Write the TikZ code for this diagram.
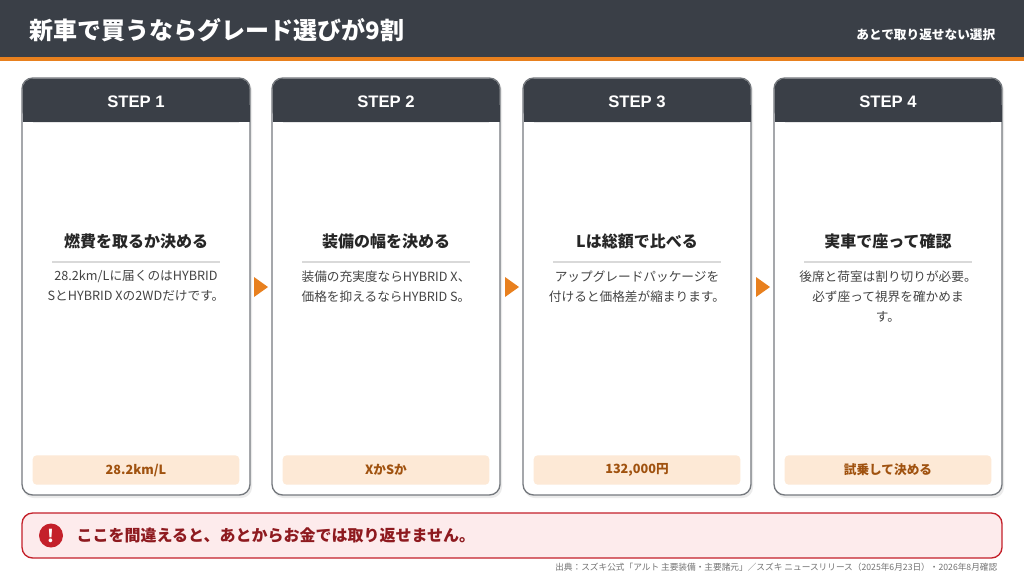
\documentclass[tikz,border=0pt]{standalone}
\usepackage{fontspec}
\setmainfont{Noto Sans CJK JP}
\newfontfamily\stepfont{Liberation Sans}
\usetikzlibrary{positioning}
\definecolor{dark}{HTML}{3A3F47}
\definecolor{accent}{HTML}{E8801E}
\definecolor{tagfill}{HTML}{FDE9D6}
\definecolor{tagtext}{HTML}{A0520F}
\definecolor{warnfill}{HTML}{FDEBEC}
\definecolor{warnred}{HTML}{C4202A}
\definecolor{warntext}{HTML}{8E1A1F}
\definecolor{bodytext}{HTML}{444444}
\tikzset{
  card/.style={draw=dark!70,line width=1pt,rounded corners=8pt,fill=white},
  steptitle/.style={font=\stepfont\bfseries\fontsize{12.5}{14}\selectfont,text=white},
  cardtitle/.style={font=\bfseries\fontsize{12}{14}\selectfont,text=black!85},
  cardbody/.style={font=\fontsize{9.5}{15}\selectfont,text=bodytext,align=center},
  tag/.style={fill=tagfill,rounded corners=3pt,minimum width=155pt,minimum height=22pt,
    font=\bfseries\fontsize{9.5}{11}\selectfont,text=tagtext},
  flow/.style={fill=accent,draw=none}
}
\begin{document}
\begin{tikzpicture}[x=0.75pt,y=-0.75pt]
\useasboundingbox (0,0) rectangle (1024,576);
\fill[white] (0,0) rectangle (1024,576);

% header
\fill[dark] (0,0) rectangle (1024,57);
\fill[accent] (0,57) rectangle (1024,61);
\node[anchor=west,text=white,font=\bfseries\fontsize{18}{20}\selectfont] (title) at (25,30) {新車で買うならグレード選びが9割};
\node[anchor=east,text=white,font=\bfseries\fontsize{9.5}{11}\selectfont] (subtitle) at (1000,35) {あとで取り返せない選択};

% cards
\foreach \i/\x/\ttl/\body/\tg in {
  1/22/燃費を取るか決める/{28.2km/Lに届くのはHYBRID\\SとHYBRID Xの2WDだけです。}/{28.2km/L},
  2/272/装備の幅を決める/{装備の充実度ならHYBRID X、\\価格を抑えるならHYBRID S。}/XかSか,
  3/523/Lは総額で比べる/{アップグレードパッケージを\\付けると価格差が縮まります。}/{132,000円},
  4/774/実車で座って確認/{後席と荷室は割り切りが必要。\\必ず座って視界を確かめま\\す。}/試乗して決める}{
  \fill[black!8,rounded corners=8pt] (\x+1,80) rectangle (\x+230,498);
  \draw[card] (\x,78) rectangle (\x+228,495);
  \fill[dark,rounded corners=8pt] (\x+0.5,78.5) rectangle (\x+227.5,122);
  \fill[dark] (\x+0.5,105) rectangle (\x+227.5,122);
  \node[steptitle] (step\i) at (\x+114,102) {STEP \i};
  \node[cardtitle] (head\i) at (\x+114,241) {\ttl};
  \draw[black!15,line width=0.8pt] (\x+30,262) -- (\x+198,262);
  \node[cardbody,anchor=north] (body\i) at (\x+114,266) {\body};
  \node[tag] (tag\i) at (\x+114,470) {\tg};
}

% flow arrows
\foreach \x in {254,505,756}{
  \fill[flow] (\x,277) -- (\x+14,287) -- (\x,297) -- cycle;
}

% warning
\draw[warnred,fill=warnfill,line width=1pt,rounded corners=8pt] (22,513) rectangle (1002,558);
\fill[warnred] (51,535.5) circle (12);
\node[text=white,font=\bfseries\fontsize{13}{13}\selectfont] (bang) at (51,535.5) {!};
\node[anchor=west,text=warntext,font=\bfseries\fontsize{12}{14}\selectfont] (warn) at (72,535.5) {ここを間違えると、あとからお金では取り返せません。};

% source
\node[anchor=east,text=black!55,font=\fontsize{6.5}{8}\selectfont] (src) at (1002,567) {出典：スズキ公式「アルト 主要装備・主要諸元」／スズキ ニュースリリース（2025年6月23日）・2026年8月確認};
\end{tikzpicture}
\end{document}
